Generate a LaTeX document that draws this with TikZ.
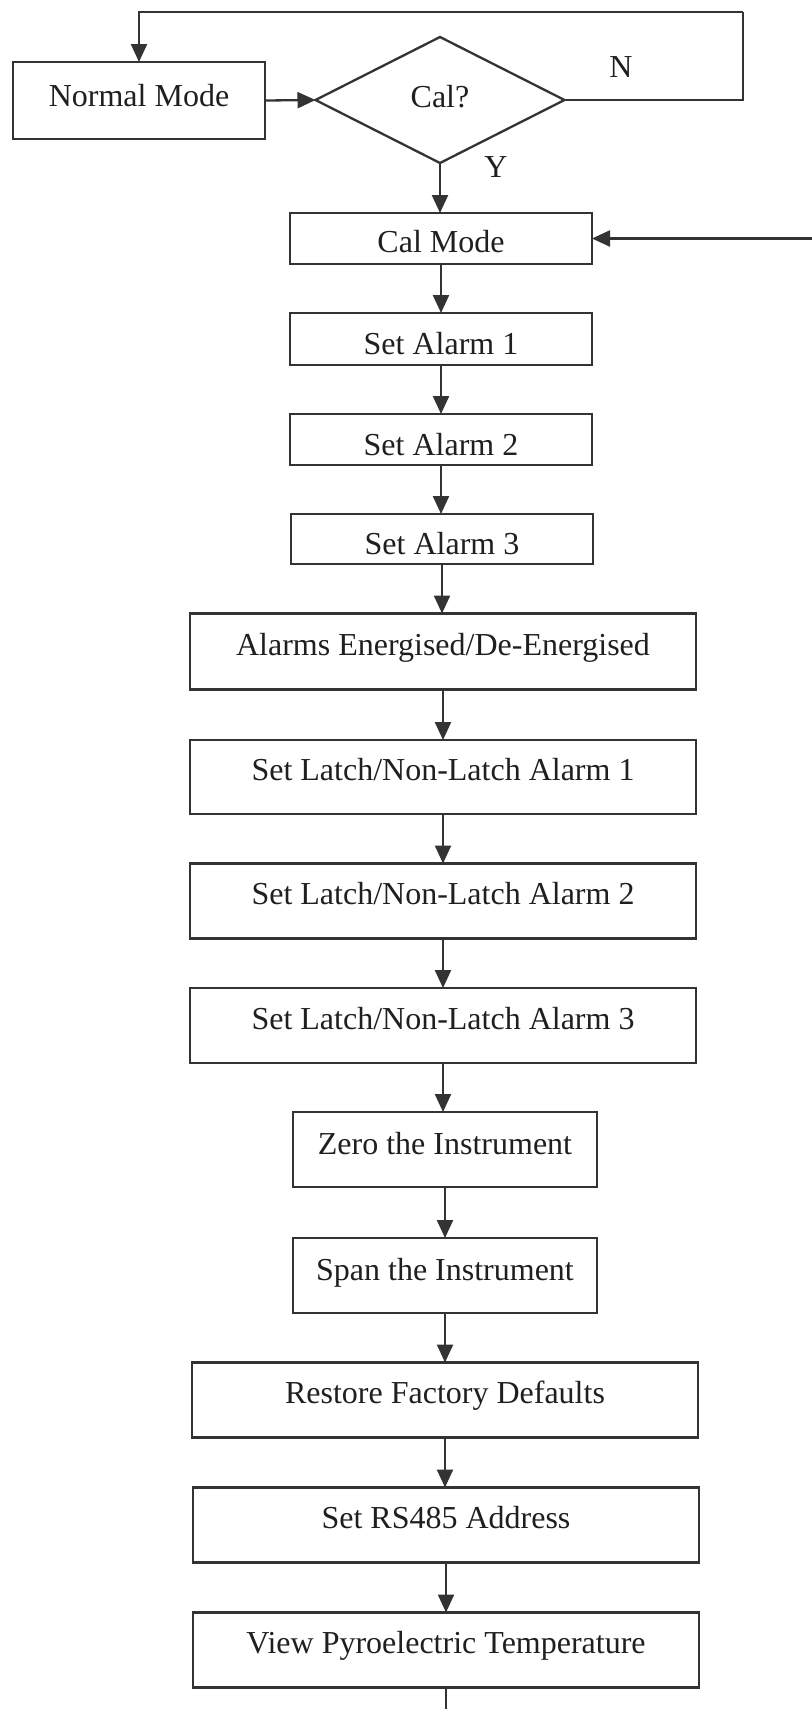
\documentclass[tikz,border=0pt]{standalone}
\usepackage{fontspec}
\setmainfont{Liberation Serif}
\usetikzlibrary{shapes.geometric,arrows.meta,calc}

\begin{document}
\begin{tikzpicture}[x=0.5pt,y=-0.5pt,
  every node/.style={font=\fontsize{16pt}{19pt}\selectfont, text=black!88},
  line/.style={draw=black!80, line width=1.15pt},
  arr/.style={line, -{Triangle[length=9pt,width=8pt]}},
  box/.style={line, rectangle, inner sep=0pt, outer sep=0pt},
  % vertical placement of the text inside each kind of box
  tall/.style={box, text height=12.1pt, text depth=8.5pt},
  mid/.style={box, text height=12.6pt, text depth=8pt},
  small/.style={box, text height=18.1pt, text depth=2.5pt},
  lbl/.style={inner sep=0pt, text height=10.6pt, text depth=0pt}
]
\useasboundingbox (0,0) rectangle (812,1709);

% decision part
\node[box, text height=13.1pt, text depth=7.5pt, minimum width=126pt, minimum height=38.5pt]
  (normal) at (139,100.5) {Normal Mode};
\node[line, diamond, inner sep=0pt, outer sep=0pt, text height=14.1pt, text depth=6.5pt,
  minimum width=124.5pt, minimum height=63pt] (cal) at (440,100) {Cal?};
\node[box, text height=17.35pt, text depth=3.25pt, minimum width=151pt, minimum height=25.5pt]
  (calmode) at (441,238.5) {Cal Mode};

% calibration steps
\node[small, minimum width=151pt, minimum height=26pt]   (a1) at (441,339)   {Set Alarm 1};
\node[small, minimum width=151pt, minimum height=25.5pt] (a2) at (441,439.5) {Set Alarm 2};
\node[small, minimum width=151pt, minimum height=25pt]   (a3) at (442,539)   {Set Alarm 3};
\node[tall, minimum width=253pt, minimum height=38pt]   (energ) at (443,651.5) {Alarms Energised/De-Energised};
\node[tall, minimum width=253pt, minimum height=37pt]   (l1) at (443,777)    {Set Latch/Non-Latch Alarm 1};
\node[tall, minimum width=253pt, minimum height=37.5pt] (l2) at (443,901)    {Set Latch/Non-Latch Alarm 2};
\node[tall, minimum width=253pt, minimum height=37.5pt] (l3) at (443,1025.5) {Set Latch/Non-Latch Alarm 3};
\node[mid, minimum width=152pt, minimum height=37.5pt]  (zero) at (445,1149.5) {Zero the Instrument};
\node[mid, minimum width=152pt, minimum height=37.5pt]  (span) at (445,1275.5) {Span the Instrument};
\node[tall, minimum width=253pt, minimum height=37.5pt] (restore) at (445,1400) {Restore Factory Defaults};
\node[tall, minimum width=253pt, minimum height=37.5pt] (rs) at (446,1525)      {Set RS485 Address};
\node[tall, minimum width=253pt, minimum height=37.5pt] (view) at (446,1650)    {View Pyroelectric Temperature};

% branch labels
\node[lbl] (lblN) at (621,67)  {N};
\node[lbl] (lblY) at (496,167) {Y};

% free ends of the loops
\coordinate (nR)   at (743,100);
\coordinate (nT)   at (743,12);
\coordinate (back) at (812,238.5);
\coordinate (out)  at (446,1709);

% connectors
\draw[arr] (normal.east) -- (cal.west);
\draw[line] (cal.east) -- (nR) -- (nT);
\draw[arr] (nT) -| (normal.north);
\draw[arr] (cal.south) -- (cal.south |- calmode.north);
\draw[arr] (back) -- (calmode.east);
\draw[arr] (calmode.south) -- (calmode.south |- a1.north);
\draw[arr] (a1.south) -- (a1.south |- a2.north);
\draw[arr] (a2.south) -- (a2.south |- a3.north);
\draw[arr] (a3.south) -- (a3.south |- energ.north);
\draw[arr] (energ.south) -- (energ.south |- l1.north);
\draw[arr] (l1.south) -- (l1.south |- l2.north);
\draw[arr] (l2.south) -- (l2.south |- l3.north);
\draw[arr] (l3.south) -- (l3.south |- zero.north);
\draw[arr] (zero.south) -- (zero.south |- span.north);
\draw[arr] (span.south) -- (span.south |- restore.north);
\draw[arr] (restore.south) -- (restore.south |- rs.north);
\draw[arr] (rs.south) -- (rs.south |- view.north);
\draw[line] (view.south) -- (out);
\end{tikzpicture}
\end{document}
